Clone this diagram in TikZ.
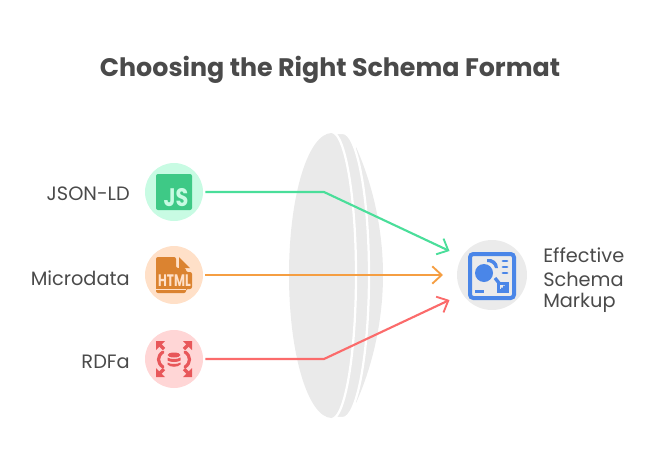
\documentclass[tikz,border=0pt]{standalone}
\usepackage{fontspec}
\usepackage{xcolor}
\usetikzlibrary{calc,arrows.meta}
\setmainfont{Poppins}
\definecolor{ink}{HTML}{4A4A4A}
\definecolor{lens}{HTML}{EAEAEA}
\definecolor{jsline}{HTML}{4ADE9A}
\definecolor{jsbg}{HTML}{C8FBE3}
\definecolor{jsicon}{HTML}{3EC986}
\definecolor{htmlline}{HTML}{F59E42}
\definecolor{htmlbg}{HTML}{FFE0C8}
\definecolor{htmlicon}{HTML}{DB8330}
\definecolor{rdfline}{HTML}{FB6B6B}
\definecolor{rdfbg}{HTML}{FFD6D6}
\definecolor{rdficon}{HTML}{E8575A}
\definecolor{outbg}{HTML}{EBEBEB}
\definecolor{outicon}{HTML}{4A86E8}
\tikzset{
  link/.style={line width=1.6pt, line join=round, -{Straight Barb[length=7pt,width=13pt,line width=1.4pt]}},
  badge/.style={circle, draw=none, minimum size=43.5pt, inner sep=0pt},
  lab/.style={text=ink, font=\fontsize{14.5}{16}\selectfont, inner sep=0pt},
  lensfill/.style={fill=lens, draw=white, line width=1.7pt},
  chip/.style={text=#1, font=\bfseries\fontsize{19}{19}\selectfont, inner sep=0pt},
}
\begin{document}
\begin{tikzpicture}[x=0.75pt,y=-0.75pt]
  \useasboundingbox (0,0) rectangle (660,468);
  \node[text=ink, font=\fontsize{19}{22}\bfseries, inner sep=0pt] (title) at (330,70) {Choosing the Right Schema Format};
  % lens
  \fill[lens] (356,147) .. controls (373,185) and (383,230) .. (383,275) .. controls (383,320) and (373,365) .. (356,403) -- cycle;
  \draw[lensfill] (343,133) .. controls (357,133) and (369,196) .. (369,275) .. controls (369,354) and (357,418) .. (343,418) -- (325,418) -- (325,133) -- cycle;
  \fill[lens] (332,133) .. controls (308,133) and (289,196) .. (289,275) .. controls (289,354) and (308,418) .. (332,418) .. controls (345,418) and (356,354) .. (356,275) .. controls (356,196) and (345,133) .. (332,133) -- cycle;
  \draw[white, line width=1.7pt] (332,132) .. controls (345,133) and (356,196) .. (356,275) .. controls (356,354) and (345,418) .. (332,419);
  % sources
  \node[badge, fill=jsbg] (json) at (174,192) {};
  \node[badge, fill=htmlbg] (micro) at (174,275) {};
  \node[badge, fill=rdfbg] (rdfa) at (174,359) {};
  \node[badge, fill=outbg, minimum size=52.5pt] (out) at (492,275) {};
  \node[lab, anchor=east] (jsonlab) at (130,194) {JSON-LD};
  \node[lab, anchor=east] (microlab) at (130,278) {Microdata};
  \node[lab, anchor=east] (rdfalab) at (130,362) {RDFa};
  \node[lab, anchor=west] (outlab1) at (543,255) {Effective};
  \node[lab, anchor=west] (outlab2) at (543,279) {Schema};
  \node[lab, anchor=west] (outlab3) at (543,303) {Markup};
  % connectors
  \coordinate (bendjson) at (324,192);
  \coordinate (bendrdfa) at (324,359);
  \coordinate (tipjson) at (449.5,251);
  \coordinate (tipmicro) at (443,275);
  \coordinate (tiprdfa) at (449.5,300);
  \draw[link, draw=jsline] ($(json.east)+(2,0)$) -- (bendjson) -- (tipjson);
  \draw[link, draw=htmlline] ($(micro.east)+(2,0)$) -- (tipmicro);
  \draw[link, draw=rdfline] ($(rdfa.east)+(2,0)$) -- (bendrdfa) -- (tiprdfa);
  % js icon
  \fill[jsicon, rounded corners=1.5pt] (156,174) rectangle (192,210);
  \node[chip=jsbg] (jstext) at (176,198) {\scalebox{0.82}[1]{JS}};
  % html icon
  \fill[htmlicon, rounded corners=1.5pt] (156,257) -- (176,257) -- (176,268) -- (186,268) -- (186,272) -- (192,272) -- (192,289) -- (186,289) -- (186,293) -- (156,293) -- cycle;
  \fill[htmlicon] (179,257) -- (190,268) -- (179,268) -- cycle;
  \draw[htmlbg, line width=0.8pt] (156,289.5) -- (186,289.5);
  \node[chip=htmlbg, font=\bfseries\fontsize{12.5}{12}\selectfont] (htmltext) at (174.5,281) {\scalebox{0.72}[1]{HTML}};
  % rdfa icon
  \foreach \sx/\sy in {-1/-1,1/-1,-1/1,1/1}{
    \draw[rdficon, line width=2.4pt] (174+\sx*10,359+\sy*10) -- (174+\sx*15,359+\sy*15);
    \fill[rdficon] (174+\sx*18,359+\sy*18) -- (174+\sx*18,359+\sy*9) -- (174+\sx*9,359+\sy*18) -- cycle;
  }
  \draw[rdficon, line width=2.4pt, line cap=round] (163,352) .. controls (157,356) and (157,363) .. (163,367);
  \draw[rdficon, line width=2.4pt, line cap=round] (185,352) .. controls (191,356) and (191,363) .. (185,367);
  \fill[rdficon] (174,355) ellipse (6.5 and 2.5);
  \fill[rdficon] (167.5,357.5) .. controls (170,359.5) and (178,359.5) .. (180.5,357.5) -- (180.5,360.5) .. controls (178,362.5) and (170,362.5) .. (167.5,360.5) -- cycle;
  \fill[rdficon] (167.5,362.5) .. controls (170,364.5) and (178,364.5) .. (180.5,362.5) -- (180.5,364.5) .. controls (178,367.5) and (170,367.5) .. (167.5,364.5) -- cycle;
  % schema icon
  \draw[outicon, line width=3pt, rounded corners=2.5pt] (470,254) rectangle (514,298);
  \fill[outicon] (484,273) circle (9);
  \fill[outicon] (487,259) .. controls (493,258) and (498,262) .. (498,268) -- (495,268) .. controls (494,264) and (491,262) .. (487,262) -- cycle;
  \foreach \y in {261,267,273}{
    \draw[outicon, line width=2.2pt, line cap=round] (503,\y) -- (507,\y);
  }
  \draw[outicon, line width=2.5pt] (495,278) -- (499,283);
  \draw[outicon, line width=2.8pt] (498.5,283.5) rectangle (507,291);
  \fill[outicon] (503,285.5) -- (505,285.5) -- (505,289) -- (501,289) -- (501,287.5) -- (503,287.5) -- cycle;
  \draw[outicon, line width=1.8pt] (475,291.5) -- (484,291.5);
\end{tikzpicture}
\end{document}
